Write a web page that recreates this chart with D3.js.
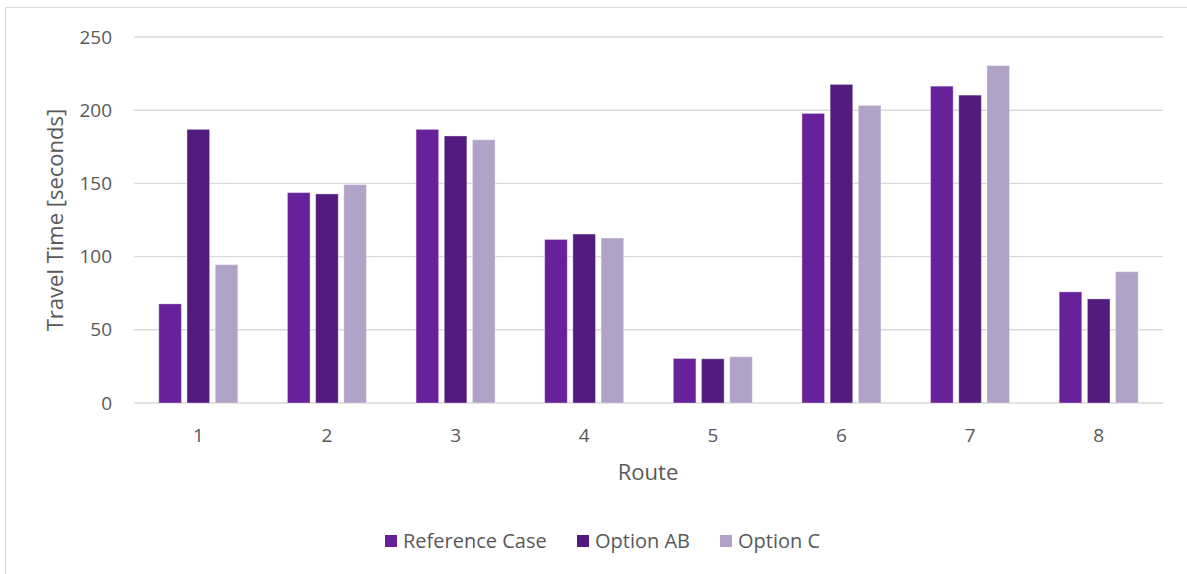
<!DOCTYPE html>
<html>
<head>
<meta charset="utf-8">
<script src="https://cdn.jsdelivr.net/npm/d3@7"></script>
<style>
  html, body { margin: 0; padding: 0; background: #fff; }
  svg { display: block; }
  text { font-family: "Open Sans", "Liberation Sans", sans-serif; fill: #595959; }
</style>
</head>
<body>
<svg id="chart" width="1187" height="574"></svg>
<script>
// Travel time per route for each scenario (seconds)
const routes = ["1", "2", "3", "4", "5", "6", "7", "8"];
const seriesNames = ["Reference Case", "Option AB", "Option C"];
const referenceCase = [67.7, 143.7, 186.9, 111.7, 30.4, 197.8, 216.4, 75.9];
const optionAB = [186.9, 142.8, 182.4, 115.4, 30.2, 217.6, 210.3, 71.1];
const optionC = [94.5, 149.2, 179.8, 112.7, 31.6, 203.3, 230.5, 89.7];
const yTicks = [0, 50, 100, 150, 200, 250];
const colors = ["#67219a", "#521b7d", "#b1a3c7"];

const seriesValues = [referenceCase, optionAB, optionC];
const rows = routes.map((r, i) => ({
  route: r,
  values: seriesNames.map((s, k) => ({ key: s, value: seriesValues[k][i] }))
}));

const svg = d3.select("#chart");
const W = 1187, H = 574;
const plot = { left: 134, right: 1163, top: 37, bottom: 403 };

// outer chart border
svg.append("rect")
  .attr("x", 5.5).attr("y", 7.5)
  .attr("width", W + 10).attr("height", H + 10)
  .attr("fill", "none").attr("stroke", "#d9d9d9").attr("stroke-width", 1);

const x = d3.scaleBand().domain(routes).range([plot.left, plot.right]).paddingInner(0).paddingOuter(0);
const y = d3.scaleLinear().domain([0, 250]).range([plot.bottom, plot.top]);

// bars within a route: 3 bars of width w with gaps
const barW = 22.6, barGap = 5.6;
const x1 = d3.scaleBand().domain(seriesNames)
  .range([0, 3 * barW + 2 * barGap])
  .paddingInner(barGap / (barW + barGap)).paddingOuter(0);
const groupOffset = (x.bandwidth() - (3 * barW + 2 * barGap)) / 2;

// gridlines
svg.append("g")
  .selectAll("line")
  .data(yTicks)
  .join("line")
  .attr("x1", plot.left).attr("x2", plot.right)
  .attr("y1", d => y(d)).attr("y2", d => y(d))
  .attr("stroke", "#d9d9d9").attr("stroke-width", 1.4);

// y tick labels
svg.append("g")
  .selectAll("text")
  .data(yTicks)
  .join("text")
  .attr("x", 112).attr("y", d => y(d))
  .attr("dy", "0.35em")
  .attr("text-anchor", "end")
  .attr("font-size", 19)
  .text(d => d);

// bars
const groups = svg.append("g")
  .selectAll("g")
  .data(rows)
  .join("g")
  .attr("transform", d => `translate(${x(d.route) + groupOffset},0)`);

groups.selectAll("rect")
  .data(d => d.values)
  .join("rect")
  .attr("x", d => x1(d.key))
  .attr("width", x1.bandwidth())
  .attr("y", d => y(d.value))
  .attr("height", d => y(0) - y(d.value))
  .attr("fill", (d, i) => colors[i])
  .attr("stroke", "#ffffff").attr("stroke-opacity", 0.35).attr("stroke-width", 1);

// x tick labels
svg.append("g")
  .selectAll("text")
  .data(routes)
  .join("text")
  .attr("x", d => x(d) + x.bandwidth() / 2)
  .attr("y", 435).attr("dy", "0.35em")
  .attr("text-anchor", "middle")
  .attr("font-size", 19)
  .text(d => d);

// axis titles
svg.append("text")
  .attr("x", 648).attr("y", 472).attr("dy", "0.35em")
  .attr("text-anchor", "middle")
  .attr("font-size", 22)
  .text("Route");

svg.append("text")
  .attr("transform", `translate(55,${(plot.top + plot.bottom) / 2}) rotate(-90)`)
  .attr("dy", "0.35em")
  .attr("text-anchor", "middle")
  .attr("font-size", 22)
  .text("Travel Time [seconds]");

// legend
const legendStarts = [385, 577, 720];
const legend = svg.append("g")
  .selectAll("g")
  .data(seriesNames)
  .join("g")
  .attr("transform", (d, i) => `translate(${legendStarts[i]},541)`);
legend.append("rect")
  .attr("x", 0).attr("y", -6).attr("width", 12).attr("height", 12)
  .attr("fill", (d, i) => colors[i]);
legend.append("text")
  .attr("x", 18).attr("dy", "0.35em")
  .attr("font-size", 20)
  .text(d => d);
</script>
</body>
</html>
